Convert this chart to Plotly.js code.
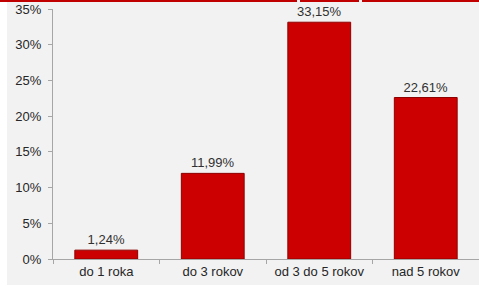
<!DOCTYPE html>
<html>
<head>
<meta charset="utf-8">
<script src="https://cdn.plot.ly/plotly-3.0.1.min.js"></script>
<style>
  html, body { margin: 0; padding: 0; background: #ffffff; }
  #wrap { position: relative; width: 479px; height: 286px; overflow: hidden; }
  #bg { position: absolute; left: 7px; top: 0; width: 472px; height: 285px; background: #f2f2f2; }
  .redline { position: absolute; top: 0; height: 2px; background: #c00000; }
  #chart { position: absolute; left: 0; top: 0; width: 479px; height: 286px; }
</style>
</head>
<body>
<div id="wrap">
  <div id="bg"></div>
  <div class="redline" style="left:0;width:297px"></div>
  <div class="redline" style="left:300px;width:59px"></div>
  <div class="redline" style="left:362px;width:117px"></div>
  <div id="chart"></div>
</div>
<script>
const categories = ["do 1 roka", "do 3 rokov", "od 3 do 5 rokov", "nad 5 rokov"];
const shares = [1.24, 11.99, 33.15, 22.61];
const yMax = 35;
const yStep = 5;

const font = "Liberation Sans, Arial, sans-serif";

const trace = {
  type: "bar",
  x: categories,
  y: shares,
  marker: { color: "#cc0000", line: { color: "#8f0000", width: 1 } },
  texttemplate: "%{y:.2f}%",
  textposition: "outside",
  cliponaxis: false,
  textfont: { family: font, size: 13, color: "#303030" },
  hoverinfo: "skip"
};

const layout = {
  width: 479,
  height: 286,
  margin: { l: 53, r: 0, t: 9, b: 27 },
  paper_bgcolor: "rgba(0,0,0,0)",
  plot_bgcolor: "rgba(0,0,0,0)",
  separators: ", ",
  showlegend: false,
  bargap: 0.41,
  xaxis: {
    type: "category",
    tickson: "boundaries",
    ticks: "outside",
    ticklen: 4,
    tickcolor: "#a6a6a6",
    showline: true,
    linecolor: "#a6a6a6",
    linewidth: 1,
    showgrid: false,
    zeroline: false,
    tickfont: { family: font, size: 13, color: "#262626" },
    fixedrange: true
  },
  yaxis: {
    range: [0, yMax],
    tickmode: "linear",
    tick0: 0,
    dtick: yStep,
    ticksuffix: "%",
    showticksuffix: "all",
    ticks: "outside",
    ticklen: 4,
    tickcolor: "#a6a6a6",
    showline: true,
    linecolor: "#a6a6a6",
    linewidth: 1,
    showgrid: false,
    zeroline: false,
    ticklabelstandoff: 4,
    tickfont: { family: font, size: 13, color: "#262626" },
    fixedrange: true
  }
};

Plotly.newPlot("chart", [trace], layout, { displayModeBar: false, staticPlot: true });
</script>
</body>
</html>
